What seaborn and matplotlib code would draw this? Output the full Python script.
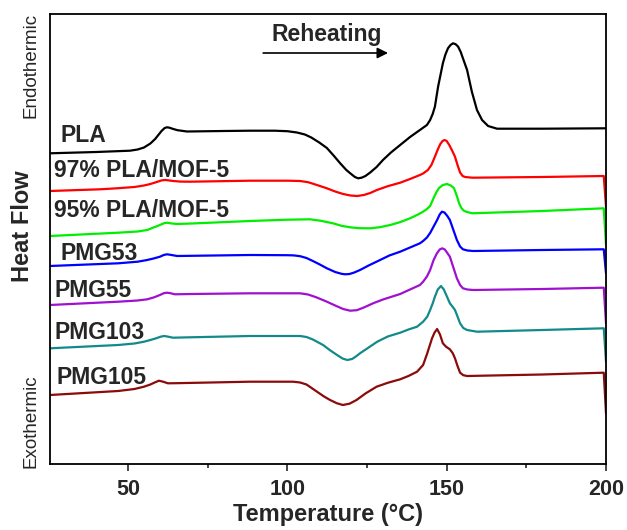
import numpy as np
import pandas as pd
import seaborn as sns
import matplotlib
matplotlib.use("Agg")
import matplotlib.pyplot as plt
from matplotlib.ticker import MultipleLocator

sns.set_style("ticks")
plt.rcParams['font.family'] = ['Liberation Sans', 'DejaVu Sans']

# ---- data (temperature in °C, heat flow in arbitrary stacked units) ----
samples = ["PLA", "97% PLA/MOF-5", "95% PLA/MOF-5", "PMG53", "PMG55", "PMG103", "PMG105"]
colors = ["#000000", "#FF0000", "#00EE00", "#0000FF", "#A010D0", "#138A8A", "#8B0A0A"]

t_pla = [25.5, 40, 50.6, 53, 55, 57, 58.5, 59.5, 60.5, 61.5, 62.2, 63, 64, 65.5, 68.5, 80, 88.3,
         96, 100, 103, 105.5, 107.5, 110, 112.4, 114.5, 116.5, 118.5, 120, 121.2, 122.2, 123.3,
         124.5, 126, 128, 130, 132.5, 135.4, 138.5, 141.6, 143.8, 144.8, 145.6, 146.3, 147.3,
         148.8, 149.6, 150.4, 151.2, 152.0, 152.8, 153.6, 154.4, 155.1, 156.4, 157.9, 159.5,
         161.1, 163.0, 165.8, 180, 200]
h_pla = [310.7, 312, 313.3, 314.5, 316.5, 320.5, 325, 329, 333, 336, 336.7, 336.3, 335.2, 333.8,
         332.5, 333, 333.3, 333.3, 332.8, 331.5, 329.5, 326.5, 321.5, 316, 308.5, 301, 294, 290,
         287, 285.7, 286.3, 288, 291.5, 297, 304, 311.5, 319, 327, 334, 339, 344, 350, 357.3,
         377.3, 400.7, 409.5, 415.7, 419, 420.7, 419.8, 417.3, 412, 405.7, 394, 372.3, 354,
         344, 338, 335.3, 335.3, 335.7]

t_97 = [25.5, 41.2, 46.5, 52, 55, 57, 59, 60.5, 61.6, 62.8, 64.1, 66.5, 69.4, 88.3, 100, 104,
        106.5, 108.5, 110.5, 112.4, 115, 117.5, 119.8, 121.9, 124, 126, 128.1, 131.5, 135.4,
        138.5, 141.6, 142.6, 144.1, 145.2, 146.3, 147.2, 148.0, 148.7, 149.3, 150.0, 150.8,
        151.7, 152.6, 153.4, 154.2, 155.0, 155.8, 158, 180, 199.3, 200]
h_97 = [273, 274.7, 275.7, 277, 278.5, 280, 282, 283.6, 284, 283.6, 283, 282.4, 282.3, 283.3,
        283.3, 283, 281.8, 279.8, 277.7, 275.7, 272.5, 270, 268.5, 268, 269, 271, 274, 277.8,
        281.3, 285, 289, 290.5, 294, 299, 307.3, 314.5, 320, 323, 324, 323, 319, 313.5, 307.3,
        299, 291.5, 288, 287, 286.3, 287, 288, 257.3]

t_95 = [25.5, 46.9, 53, 56, 58, 60, 61.3, 62.2, 63.3, 65.4, 70, 88.3, 100, 107.1, 110.5, 114.3,
        117, 119.7, 122.5, 126, 129, 132.3, 135.5, 138.5, 141, 142.6, 143.8, 144.8, 145.9,
        146.8, 147.6, 148.8, 150.1, 151.3, 152.3, 153.2, 153.9, 154.6, 155.3, 156.1, 158, 180,
        199.3, 200]
h_95 = [228, 231.3, 232.5, 234, 236.5, 239, 240.8, 241.3, 240.7, 240, 240.5, 243, 244.3, 244.7,
        243.2, 240.7, 238.2, 236.7, 235.8, 235.7, 236.8, 239, 242, 245.7, 249.5, 252.3, 255,
        258, 266, 272, 276, 279, 280, 278.5, 275.7, 268, 260.7, 256, 253.5, 252.3, 250.7, 253,
        255.7, 219]

t_53 = [25.5, 46.9, 53, 56, 58, 60, 61.2, 62.2, 63.3, 65.4, 70, 88.3, 100, 102, 104, 106, 108,
        110, 112.4, 115, 117, 118.1, 119.5, 121, 122.8, 125.5, 129.1, 132, 135.4, 138.5, 141.6,
        142.6, 143.8, 144.8, 145.9, 147.0, 147.8, 148.5, 149.3, 150.2, 151.0, 152.1, 153.2,
        154.2, 155.1, 156.5, 158.3, 180, 199.3, 200]
h_53 = [198, 200.7, 202.3, 204, 205.5, 207.3, 209, 209.7, 209.2, 208, 208.2, 209, 208.8, 208.6,
        207.8, 206, 203, 199.8, 195.7, 192, 190.2, 189.7, 190, 191.5, 194, 198.5, 204, 208.5,
        212.3, 216.5, 220.7, 223, 226.5, 231, 237.5, 244, 249.5, 252.3, 251.5, 248, 244, 234,
        224, 217.5, 214.7, 213.5, 213, 214, 214.7, 190.7]

t_55 = [25.5, 46.9, 53, 56, 58, 60, 61.2, 62.2, 63.3, 64.7, 70, 88.3, 104, 106.5, 109, 112.4,
        115, 117.5, 119.7, 121.8, 124, 126.9, 130, 135.4, 138.5, 141.6, 142.6, 143.8, 144.8,
        145.9, 146.9, 147.8, 148.6, 149.4, 150.2, 151.0, 152.1, 153.2, 154.2, 155.1, 156.5,
        158.3, 180, 199.3, 200]
h_55 = [159, 162.3, 163.5, 164.7, 166.5, 169, 170.8, 171.3, 170.8, 169.7, 170, 170.7, 170.7,
        169.5, 166.8, 162.3, 158.5, 155, 153.3, 153.8, 156.5, 160.7, 164.5, 170, 174.5, 179,
        182.3, 187.5, 194, 204, 210.5, 214.5, 215.7, 214.5, 211, 207.3, 196.5, 185.7, 179,
        175.7, 174.5, 174, 175, 176.3, 140.7]

t_103 = [25.5, 46.9, 52, 55, 57, 58.8, 60.2, 61.3, 62.3, 64.1, 68, 88.3, 104, 106, 108, 111.2,
         113.5, 115.6, 117.3, 118.8, 120.3, 121.5, 122.8, 125.5, 128.2, 131.5, 135.4, 138,
         140.7, 142.6, 143.9, 144.8, 145.6, 146.3, 147.2, 148.2, 149.1, 150.1, 151.0, 151.8,
         152.6, 153.4, 154.2, 155.2, 156.4, 159.5, 180, 199.3, 200]
h_103 = [115.7, 119, 120.5, 122.3, 124, 125.7, 127.3, 128, 127.5, 126.3, 126.6, 128, 128, 127,
         124.5, 119, 113.5, 109, 105.5, 104, 105, 107.5, 110.7, 116.5, 122.3, 127.5, 131.3,
         134.5, 137.3, 142.3, 147.3, 154, 160.5, 167.3, 174.5, 178, 174.5, 167.3, 160.7, 157.5,
         154, 147.5, 140.7, 136, 134, 132.3, 134, 135.7, 102.3]

t_105 = [25.5, 46.9, 52, 55, 57, 58.2, 59.7, 61, 62.5, 65, 88.3, 101.8, 104, 106, 109.3, 111.5,
         113.4, 115.5, 117.4, 119.5, 121.7, 124.5, 128, 131.5, 135.4, 138, 140.7, 142.6, 143.9,
         145.4, 146.2, 147.0, 147.9, 148.8, 149.8, 151.0, 151.9, 152.6, 153.4, 154.2, 155.2,
         156.4, 180, 199.3, 200]
h_105 = [69, 73, 75, 77.3, 79.5, 81.3, 83.3, 82.3, 80.7, 80.8, 82.3, 82.3, 81.5, 79.5, 72.3,
         67.5, 64, 60.8, 59, 60.3, 64, 70.5, 77.3, 81.2, 84.7, 88, 92.3, 99, 110.7, 125.7, 131.5,
         135, 129.5, 120.7, 117.3, 114.7, 110.8, 105.7, 98, 91.3, 88.8, 88, 89.5, 91.3, 50.7]

series_t = [t_pla, t_97, t_95, t_53, t_55, t_103, t_105]
series_h = [h_pla, h_97, h_95, h_53, h_55, h_103, h_105]

# label anchor positions (left, baseline)
label_x = [28.7, 26.8, 26.8, 28.7, 26.8, 26.8, 27.4]
label_y = [322, 287, 247, 204, 167, 125, 80]

x_ticks = [50, 100, 150, 200]

frames = []
for name, t, h in zip(samples, series_t, series_h):
    frames.append(pd.DataFrame({"T": t, "HF": h, "sample": name}))
df = pd.concat(frames, ignore_index=True)

fig = plt.figure(figsize=(6.27, 5.30), dpi=100)
ax = fig.add_axes([50/627, 1-464/530, (606-50)/627, (464-14)/530])

sns.lineplot(data=df, x="T", y="HF", hue="sample", hue_order=samples,
             palette=dict(zip(samples, colors)), estimator=None, sort=False,
             legend=False, linewidth=1.6, ax=ax)
for ln in ax.get_lines():
    ln.set_solid_joinstyle("round")
    ln.set_solid_capstyle("round")

ax.set_xlim(25.5, 200)
ax.set_ylim(0, 450)
ax.set_xticks(x_ticks)
ax.set_xticklabels([str(v) for v in x_ticks])
ax.xaxis.set_minor_locator(MultipleLocator(25))
ax.set_yticks([])
ax.tick_params(axis="x", which="major", direction="out", length=5, width=1.2,
               labelsize=15.5, pad=6)
ax.tick_params(axis="x", which="minor", direction="out", length=3, width=1.2)
for lbl in ax.get_xticklabels():
    lbl.set_fontweight("bold")
for sp in ax.spines.values():
    sp.set_visible(True)
    sp.set_linewidth(1.3)
    sp.set_color("black")
ax.set_xlabel("")
ax.set_ylabel("")

for name, lx, ly in zip(samples, label_x, label_y):
    ax.text(lx, ly, name, fontsize=16.5, fontweight="bold", ha="left", va="baseline")

# Reheating arrow
ax.annotate("", xy=(131.6, 411), xytext=(92.4, 411),
            arrowprops=dict(arrowstyle="-|>", lw=1.2, color="black", mutation_scale=16,
                            shrinkA=0, shrinkB=0))
ax.text(94.9, 423, "Reheating", fontsize=16.5, fontweight="bold", ha="left", va="baseline")

fig.text(328/627, 1-515/530, "Temperature (°C)", fontsize=17, fontweight="bold",
         ha="center", va="center")
fig.text(22.5/627, 1-226.5/530, "Heat Flow", fontsize=17, fontweight="bold",
         ha="center", va="center", rotation=90)
fig.text(31/627, 1-65/530, "Endothermic", fontsize=13.5, ha="center", va="center", rotation=90)
fig.text(31/627, 1-421.5/530, "Exothermic", fontsize=13.5, ha="center", va="center", rotation=90)

fig.savefig("out.png", dpi=100)
